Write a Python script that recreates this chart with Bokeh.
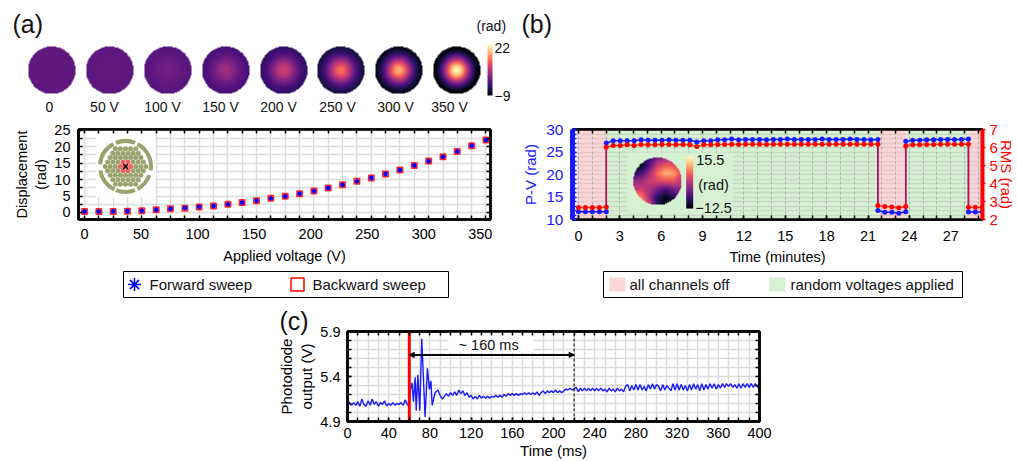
import numpy as np
from bokeh.plotting import figure
from bokeh.layouts import column, row
from bokeh.embed import file_html
from bokeh.resources import INLINE
from bokeh.core.properties import value
from bokeh.palettes import Magma256
from bokeh.models import (Range1d, LinearAxis, FixedTicker, LinearColorMapper, Title, Arrow, NormalHead)

FONT = "Liberation Sans"
BLUE = "#1a1aff"
RED = "#ff0000"

# ---------- panel (a) data ----------
volt_labels = ["0", "50 V", "100 V", "150 V", "200 V", "250 V", "300 V", "350 V"]
map_center = [0.0, 0.3, 1.6, 5.0, 8.5, 13.0, 17.0, 22.0]
map_edge = [0.0, -0.1, -0.6, -1.8, -3.5, -5.5, -7.5, -9.0]
radial_r = [0.0, 0.15, 0.3, 0.45, 0.6, 0.75, 0.9, 1.0]
radial_shape = [1.0, 0.93, 0.74, 0.50, 0.29, 0.13, 0.03, 0.0]
voltage = [0, 12.7, 25.4, 38, 50.7, 63.4, 76, 88.8, 101.4, 114.1, 126.8, 139.4, 152.1, 164.8, 177.5,
           190.2, 202.9, 215.5, 228.2, 240.9, 253.6, 266.2, 278.9, 291.6, 304.3, 317, 329.6, 342.3, 355]
forward = [0.3, 0.3, 0.3, 0.4, 0.5, 0.8, 1.1, 1.4, 1.7, 2.0, 2.5, 3.0, 3.6, 4.3, 4.9, 5.7, 6.5, 7.4, 8.4,
           9.5, 10.5, 11.7, 12.9, 14.3, 15.6, 16.9, 18.5, 20.3, 22.0]
backward = [0.3, 0.3, 0.3, 0.4, 0.5, 0.8, 1.1, 1.3, 1.7, 2.0, 2.5, 3.0, 3.6, 4.3, 4.9, 5.7, 6.5, 7.4, 8.4,
            9.5, 10.5, 11.7, 12.9, 14.3, 15.6, 16.9, 18.5, 20.3, 22.0]

# ---------- panel (b) data ----------
b_step = 0.505
off1_pv = [11.7, 11.7, 11.7, 11.7, 11.7]
on1_pv = [27.0, 27.5, 27.5, 27.5, 27.5, 27.7, 27.6, 27.6, 27.6, 27.7, 27.6, 27.6, 27.6, 27.2, 27.5, 27.5, 27.7,
          27.7, 27.9, 27.7, 27.8, 27.8, 27.8, 27.7, 27.8, 27.8, 27.9, 27.8, 27.8, 27.8, 27.8, 27.9, 27.8, 27.8,
          27.8, 27.9, 27.8, 27.8, 27.7, 27.8]
off2_pv = [12.0, 11.6, 11.6, 11.4, 11.7]
on2_pv = [27.4, 27.6, 27.6, 27.7, 27.7, 27.8, 27.8, 27.8, 27.8, 27.9]
off3_pv = [11.65, 11.65, 11.65]
off1_rms = [2.67, 2.67, 2.67, 2.67, 2.70]
on1_rms = [6.02, 6.11, 6.11, 6.15, 6.11, 6.17, 6.15, 6.15, 6.17, 6.17, 6.15, 6.17, 6.15, 6.06, 6.15, 6.15, 6.17,
           6.17, 6.18, 6.17, 6.18, 6.18, 6.18, 6.17, 6.18, 6.18, 6.18, 6.18, 6.18, 6.18, 6.18, 6.18, 6.18, 6.18,
           6.18, 6.18, 6.18, 6.18, 6.18, 6.18]
off2_rms = [2.78, 2.72, 2.70, 2.65, 2.72]
on2_rms = [6.08, 6.15, 6.15, 6.17, 6.17, 6.18, 6.18, 6.18, 6.18, 6.18]
off3_rms = [2.68, 2.68, 2.68]
b_start_index = [0, 4, 43, 47, 56]
b_xticks = [0, 3, 6, 9, 12, 15, 18, 21, 24, 27]
inset_grid = [
    [-9, -9, -7, -3, -1, 0, 0],
    [-12, -11, -5, 3, 6, 5, 3],
    [-8, -6, 0, 7, 11, 10, 4],
    [-1, 0, 3, 4, 5, 5, 2],
    [3, 3, 1, -3, -6, -3, -1],
    [10, 8, 0, -8, -11, -8, -3],
    [15, 13, 3, -9, -12.5, -9, -5],
]

# ---------- panel (c) data ----------
c_base_t = list(range(0, 62, 2))
c_base_v = [5.15, 5.10, 5.08, 5.11, 5.08, 5.12, 5.07, 5.15, 5.09, 5.07, 5.13, 5.08, 5.15, 5.09, 5.12, 5.07, 5.11,
            5.09, 5.13, 5.07, 5.10, 5.08, 5.11, 5.08, 5.10, 5.09, 5.11, 5.08, 5.14, 5.09, 5.07]
c_trans_t = [61, 62.7, 64, 65.7, 66.7, 68.3, 70.2, 72.1, 75.3, 77.6, 79.5, 81, 82.2, 85, 87.8, 90, 92]
c_trans_v = [5.25, 5.33, 5.12, 5.39, 5.02, 5.42, 5.02, 5.82, 4.95, 5.49, 5.26, 5.35, 5.08, 5.22, 5.25, 5.19, 5.15]
c_tail_t = list(range(94, 402, 2))
c_tail_v = [5.18, 5.21, 5.18, 5.22, 5.19, 5.23, 5.19, 5.25, 5.21, 5.24, 5.19, 5.22, 5.17, 5.19,
            5.15, 5.18, 5.15, 5.19, 5.16, 5.18, 5.16, 5.18, 5.16, 5.18, 5.17, 5.19, 5.17, 5.19, 5.17, 5.20, 5.18,
            5.21, 5.19, 5.21, 5.19, 5.21, 5.19, 5.21, 5.20,
            5.22, 5.20, 5.22, 5.20, 5.22, 5.20, 5.23, 5.19, 5.22, 5.24, 5.21, 5.24, 5.22, 5.24, 5.22, 5.25, 5.22,
            5.24, 5.22, 5.24, 5.26, 5.25, 5.27, 5.25, 5.26,
            5.28, 5.23, 5.27, 5.24, 5.27, 5.24, 5.27, 5.24, 5.27, 5.24, 5.27, 5.24, 5.27, 5.24, 5.26, 5.23, 5.27,
            5.24, 5.26, 5.23, 5.27, 5.24, 5.26, 5.23, 5.29,
            5.31, 5.24, 5.30, 5.25, 5.31, 5.25, 5.31, 5.25, 5.29, 5.24, 5.31, 5.26, 5.32, 5.26, 5.31, 5.29, 5.24,
            5.31, 5.25, 5.30, 5.27, 5.24, 5.32, 5.25, 5.32, 5.25, 5.31, 5.25, 5.30, 5.24,
            5.31, 5.25, 5.32, 5.26, 5.31, 5.24, 5.32, 5.25, 5.31, 5.26, 5.32, 5.27, 5.32, 5.26, 5.31, 5.27, 5.32,
            5.28, 5.32, 5.29, 5.32, 5.28, 5.31, 5.27, 5.32, 5.27, 5.32, 5.28, 5.32, 5.28, 5.32, 5.28, 5.32, 5.28,
            5.31]


def style_axis(ax, color="black", size=14.5, label_size=14.5):
    ax.major_label_text_font = FONT
    ax.major_label_text_font_size = f"{size}px"
    ax.major_label_text_color = color
    ax.axis_label_text_font = FONT
    ax.axis_label_text_font_size = f"{label_size}px"
    ax.axis_label_text_font_style = "normal"
    ax.axis_label_text_color = color
    ax.axis_line_color = color
    ax.axis_line_width = 2.5
    ax.major_tick_line_color = color
    ax.minor_tick_line_color = color
    ax.major_tick_line_width = 1.5
    ax.minor_tick_line_width = 1.5
    ax.major_tick_in = 4
    ax.major_tick_out = 0
    ax.minor_tick_in = 4
    ax.minor_tick_out = 0


def mirror_axis(p, side, positions, color="black"):
    ax = LinearAxis(ticker=FixedTicker(ticks=[], minor_ticks=positions))
    style_axis(ax, color)
    ax.major_label_standoff = 0
    p.add_layout(ax, side)
    return ax


def disc(values):
    n = 96
    yy, xx = np.mgrid[-1:1:n * 1j, -1:1:n * 1j]
    rr = np.sqrt(xx ** 2 + yy ** 2)
    out = values(xx, yy, rr)
    out[rr > 1] = np.nan
    return out


def radial_map(c, e):
    return disc(lambda x, y, r: e + (c - e) * np.interp(r, radial_r, radial_shape))


def inset_map():
    g = np.array(inset_grid, dtype=float)[::-1]
    m = g.shape[0]

    def f(x, y, r):
        u = np.clip((x + 1) / 2 * (m - 1), 0, m - 1 - 1e-6)
        v = np.clip((y + 1) / 2 * (m - 1), 0, m - 1 - 1e-6)
        i, j = u.astype(int), v.astype(int)
        a, b = u - i, v - j
        return (g[j, i] * (1 - a) * (1 - b) + g[j, i + 1] * a * (1 - b)
                + g[j + 1, i] * (1 - a) * b + g[j + 1, i + 1] * a * b)
    return disc(f)


def strip(width, height, x0):
    s = figure(width=width, height=height, x_range=Range1d(x0, x0 + width), y_range=Range1d(0, height),
               x_axis_type=None, y_axis_type=None, toolbar_location=None, output_backend="svg",
               min_border=0, outline_line_color=None)
    s.grid.visible = False
    return s


NOCOL = "rgba(0,0,0,0)"

# ---------- top strip ----------
top = strip(1017, 118, 0)


def Y(py):
    return 118 - py


map_x = [51, 109, 167, 225, 283, 340, 398, 456]
label_x = [49, 104, 162, 220, 278, 337, 395, 449]
map_mapper = LinearColorMapper(palette=Magma256, low=-9, high=22, nan_color=NOCOL)
for cx, lx, cv, ev, lab in zip(map_x, label_x, map_center, map_edge, volt_labels):
    top.image(image=[radial_map(cv, ev)], x=cx - 24, y=Y(94), dw=48, dh=48, color_mapper=map_mapper)
    top.text(x=[lx], y=[Y(106)], text=[lab], text_font=value(FONT), text_font_size="14px",
             text_align="center", text_baseline="middle", text_color="#111111")
top.image(image=[np.linspace(-9, 22, 128).reshape(-1, 1)], x=487, y=Y(95), dw=5, dh=51, color_mapper=map_mapper)
for tx, ty, ts, al in [(476, 25, "(rad)", "left"), (494, 47, "22", "left"), (494, 95, "\u22129", "left")]:
    top.text(x=[tx], y=[Y(ty)], text=[ts], text_font=value(FONT), text_font_size="14px",
             text_align=al, text_baseline="middle", text_color="#111111")
for tx, ts in [(12, "(a)"), (521, "(b)")]:
    top.text(x=[tx], y=[Y(23)], text=[ts], text_font=value(FONT), text_font_size="25px",
             text_align="left", text_baseline="middle", text_color="#111111")

# ---------- panel (a) ----------
a_sx = 1.131
a_sy = 3.29
a = figure(width=510, height=150, x_range=Range1d(-5.3, 359), y_range=Range1d(-2.13, 25.2),
           toolbar_location=None, output_backend="svg", min_border_left=78, min_border_right=20,
           min_border_top=11, min_border_bottom=49, outline_line_color="black", outline_line_width=2.5,
           x_axis_label="Applied voltage (V)", y_axis_label="Displacement\n(rad)")
a_major_x = [0, 50, 100, 150, 200, 250, 300, 350]
a_y_minor = [2.5, 7.5, 12.5, 17.5, 22.5]
a.xaxis.ticker = FixedTicker(ticks=a_major_x, minor_ticks=voltage)
a.yaxis.ticker = FixedTicker(ticks=[0, 5, 10, 15, 20, 25], minor_ticks=a_y_minor)
style_axis(a.xaxis[0])
style_axis(a.yaxis[0])
a.xaxis.major_tick_in = 0
a.xaxis.major_label_standoff = 9
a.xaxis.axis_label_standoff = 6
a.yaxis.major_label_standoff = 8
a.yaxis.axis_label_standoff = 2
mirror_axis(a, "above", voltage)
mirror_axis(a, "right", [0, 2.5, 5, 7.5, 10, 12.5, 15, 17.5, 20, 22.5, 25])
a.xgrid.ticker = FixedTicker(ticks=voltage)
a.ygrid.ticker = FixedTicker(ticks=[0, 2.5, 5, 7.5, 10, 12.5, 15, 17.5, 20, 22.5, 25])
a.xgrid.grid_line_color = "#dcdcdc"
a.ygrid.grid_line_color = "#dcdcdc"
a.xgrid.grid_line_width = 1.5
a.ygrid.grid_line_width = 1.5

# pixel helpers for the actuator icon
ax_px = lambda px: (px - 84) / a_sx
ay_px = lambda py: (212 - py) / a_sy
a.quad(left=[ax_px(95)], right=[ax_px(155)], bottom=[ay_px(197)], top=[ay_px(130)], fill_color="white", line_color=None)
ring_start = [68, -9, -62, -112, -171, 118]
ring_end = [112, 62, -20, -68, -115, 175]
a.annular_wedge(x=[ax_px(125)] * 6, y=[ay_px(166)] * 6, inner_radius=23.5, outer_radius=27.5,
                inner_radius_units="screen", outer_radius_units="screen",
                start_angle=ring_start, end_angle=ring_end, start_angle_units="deg", end_angle_units="deg",
                fill_color="#9aa36e", line_color=None)
hx, hy, hc = [], [], []
for q in range(-4, 5):
    for r in range(-4, 5):
        if abs(q + r) <= 4:
            dx = 5.1 * (q + r / 2)
            dy = 5.1 * r * 0.866
            hx.append(ax_px(125 + dx))
            hy.append(ay_px(166 + dy))
            hc.append("#f26060" if max(abs(q), abs(r), abs(q + r)) <= 1 else "#9aa36e")
a.scatter(hx, hy, marker="circle", size=5, fill_color=hc, line_color=None)
a.scatter([ax_px(125)], [ay_px(166)], marker="x", size=7, line_color="black", line_width=1.3)

a.scatter(voltage, backward, marker="square", size=5.5, fill_color="#ff8080", line_color=RED, line_width=1.5,
          line_alpha=0.8)
a.scatter(voltage, forward, marker="asterisk", size=4.5, line_color="#0000ff", line_width=2)

# legend of panel (a), in page pixels
a_key = strip(510, 35, 0)
KY = lambda py: 303 - py
a_key.quad(left=[123], right=[448], bottom=[KY(297)], top=[KY(271)], fill_color="white", line_color="black", line_width=1)
a_key.scatter([134], [KY(284)], marker="asterisk", size=13, line_color="#0000ff", line_width=1.5)
a_key.scatter([297], [KY(284)], marker="square", size=13, fill_color=None, line_color=RED, line_width=1.5)
for tx, ts in [(149, "Forward sweep"), (312, "Backward sweep")]:
    a_key.text(x=[tx], y=[KY(284)], text=[ts], text_font=value(FONT), text_font_size="15px", text_align="left",
               text_baseline="middle", text_color="#111111")

# ---------- panel (b) ----------
all_pv = [off1_pv, on1_pv, off2_pv, on2_pv, off3_pv]
all_rms = [off1_rms, on1_rms, off2_rms, on2_rms, off3_rms]
b_t, b_pv, b_rms = [], [], []
for start, pv, rms in zip(b_start_index, all_pv, all_rms):
    for k in range(len(pv)):
        b_t.append((start + k) * b_step)
        b_pv.append(pv[k])
        b_rms.append(rms[k])
b_end = 29.3
b = figure(width=507, height=150, x_range=Range1d(-0.43, b_end), y_range=Range1d(10, 30),
           toolbar_location=None, output_backend="svg", min_border_left=62, min_border_right=34,
           min_border_top=11, min_border_bottom=49, outline_line_color="black", outline_line_width=2.5,
           x_axis_label="Time (minutes)", y_axis_label="P-V (rad)")
b.extra_y_ranges = {"rms": Range1d(2, 7)}
b_minor = list(range(0, 30))
b.xaxis.ticker = FixedTicker(ticks=b_xticks, minor_ticks=b_minor)
b.yaxis.ticker = FixedTicker(ticks=[10, 15, 20, 25, 30], minor_ticks=list(range(10, 31)))
style_axis(b.xaxis[0])
style_axis(b.yaxis[0], BLUE, size=15.5, label_size=15)
b.yaxis.axis_line_width = 5
b.xaxis.major_label_standoff = 11
b.xaxis.axis_label_standoff = 5
b.yaxis.major_label_standoff = 9
b.yaxis.axis_label_standoff = 4
mirror_axis(b, "above", b_minor)
rax = LinearAxis(y_range_name="rms", ticker=FixedTicker(ticks=[2, 3, 4, 5, 6, 7]), axis_label="RMS (rad)")
style_axis(rax, RED, size=15, label_size=15)
rax.axis_line_width = 4
rax.major_tick_in = 0
rax.major_tick_out = 3
rax.major_label_standoff = 4
rax.axis_label_standoff = -3
b.add_layout(rax, "right")
b.xgrid.ticker = FixedTicker(ticks=b_minor)
b.ygrid.ticker = FixedTicker(ticks=list(range(10, 31)))
b.xgrid.grid_line_color = "#808080"
b.xgrid.grid_line_alpha = 0.5
b.xgrid.grid_line_dash = "3 2"
b.xgrid.grid_line_width = 1
b.ygrid.grid_line_color = "#a0a0a0"
b.ygrid.grid_line_alpha = 0.25
b.ygrid.grid_line_width = 1.5
PINK = "#fcd6d6"
GREEN = "#d6f0d2"
b.quad(left=[-0.1, 21.76, 28.28], right=[2.06, 23.8, b_end], bottom=10, top=30, fill_color=PINK,
       line_color=None, level="image")
b.quad(left=[2.06, 23.8], right=[21.76, 28.28], bottom=10, top=30, fill_color=GREEN,
       line_color=None, level="image")
bx_px = lambda px: (px - 578) / 13.82
by_px = lambda py: 30 - (py - 129) / 4.5
b.quad(left=[bx_px(627)], right=[bx_px(733)], bottom=[by_px(213)], top=[by_px(152)], fill_color=GREEN, line_color=None)
b.line(b_t, b_pv, line_color=BLUE, line_width=1.5)
b.scatter(b_t, b_pv, marker="circle", size=5, fill_color=BLUE, line_color=None)
b.line(b_t, b_rms, y_range_name="rms", line_color=RED, line_width=1.5, line_alpha=0.75)
b.scatter(b_t, b_rms, y_range_name="rms", marker="circle", size=5, fill_color=RED, line_color=None)
in_mapper = LinearColorMapper(palette=Magma256, low=-12.5, high=15.5, nan_color=NOCOL)
b.image(image=[inset_map()], x=bx_px(633), y=by_px(205), dw=48 / 13.82, dh=48 / 4.5, color_mapper=in_mapper)
b.image(image=[np.linspace(-12.5, 15.5, 128).reshape(-1, 1)], x=bx_px(686), y=by_px(208), dw=7 / 13.82,
        dh=52 / 4.5, color_mapper=in_mapper)
for tx, ty, ts in [(696, 159, "15.5"), (698, 184, "(rad)"), (695, 207, "\u221212.5")]:
    b.text(x=[bx_px(tx)], y=[by_px(ty)], text=[ts], text_font=value(FONT), text_font_size="14.5px",
           text_align="left", text_baseline="middle", text_color="#111111")

b_key = strip(507, 35, 510)
b_key.quad(left=[603], right=[962], bottom=[KY(297)], top=[KY(271)], fill_color="white", line_color="black", line_width=1)
b_key.quad(left=[609, 769], right=[625, 785], bottom=[KY(291)] * 2, top=[KY(277)] * 2, fill_color=[PINK, GREEN],
           line_color=None)
for tx, ts in [(629, "all channels off"), (790, "random voltages applied")]:
    b_key.text(x=[tx], y=[KY(284)], text=[ts], text_font=value(FONT), text_font_size="15px", text_align="left",
               text_baseline="middle", text_color="#111111")

# ---------- panel (c) ----------
c_t = c_base_t + c_trans_t + c_tail_t
c_v = c_base_v + c_trans_v + c_tail_v
c = figure(width=779, height=158, x_range=Range1d(0, 400), y_range=Range1d(4.9, 5.9),
           toolbar_location=None, output_backend="svg", min_border_left=347, min_border_right=20,
           min_border_top=28, min_border_bottom=38, outline_line_color="black", outline_line_width=2.5,
           x_axis_label="Time (ms)", y_axis_label="Photodiode\noutput (V)")
c_minor_x = list(range(0, 410, 10))
c_minor_y = [round(4.9 + k * 0.1, 1) for k in range(11)]
c.xaxis.ticker = FixedTicker(ticks=list(range(0, 440, 40)), minor_ticks=c_minor_x)
c.yaxis.ticker = FixedTicker(ticks=[4.9, 5.4, 5.9], minor_ticks=c_minor_y)
style_axis(c.xaxis[0], label_size=15)
style_axis(c.yaxis[0], label_size=15)
c.xaxis.major_label_standoff = 6
c.xaxis.axis_label_standoff = 1
c.yaxis.major_label_standoff = 7
c.yaxis.axis_label_standoff = 2
mirror_axis(c, "above", c_minor_x)
mirror_axis(c, "right", c_minor_y)
c.xgrid.ticker = FixedTicker(ticks=c_minor_x)
c.ygrid.ticker = FixedTicker(ticks=c_minor_y)
c.xgrid.grid_line_color = "#dcdcdc"
c.ygrid.grid_line_color = "#dcdcdc"
c.xgrid.grid_line_width = 1.5
c.ygrid.grid_line_width = 1.5
c.quad(left=[98], right=[181], bottom=[5.67], top=[5.9], fill_color="white", line_color=None)
c.line(c_t, c_v, line_color=BLUE, line_width=1.4)
c.line([60, 60], [4.9, 5.9], line_color=RED, line_width=3)
c.line([220, 220], [4.9, 5.9], line_color="black", line_width=1, line_dash="3 2")
c.add_layout(Arrow(x_start=60, x_end=220, y_start=5.64, y_end=5.64, line_color="black", line_width=2,
                   start=NormalHead(size=5, fill_color="black", line_color="black"),
                   end=NormalHead(size=5, fill_color="black", line_color="black")))
c.text(x=[137], y=[5.75], text=["~ 160 ms"], text_font=value(FONT), text_font_size="14.5px",
       text_align="center", text_baseline="middle", text_color="#111111")
c.add_layout(Title(text="(c)", text_font=FONT, text_font_size="25px", text_font_style="normal",
                   text_color="#111111", align="left", offset=-68, standoff=-6), "above")

root = column(top, row(column(a, row(a_key)), column(b, row(b_key))), row(c))
open("out.html", "w").write(file_html(root, INLINE))
